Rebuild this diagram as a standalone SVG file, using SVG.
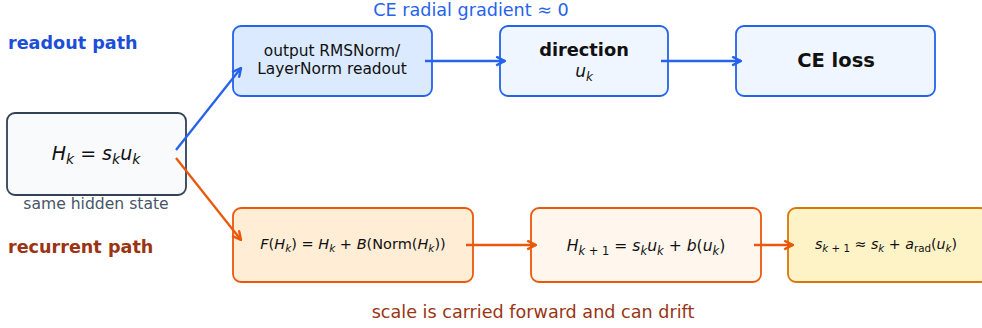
<svg xmlns="http://www.w3.org/2000/svg" width="982" height="328" viewBox="0 0 982 328">
<style>
text{font-family:"DejaVu Sans","Liberation Sans",sans-serif;}
.lbl{font-size:17.6px;font-weight:bold;}
.i{font-style:italic;}
.bl{stroke:#2563eb;stroke-width:2.3;fill:none;}
.or{stroke:#ea580c;stroke-width:2.3;fill:none;}
</style>
<defs>
<marker id="ab" viewBox="0 0 10 10" refX="9" refY="5" markerWidth="11" markerHeight="11" markerUnits="userSpaceOnUse" orient="auto">
<path d="M1,1 L9,5 L1,9" fill="none" stroke="#2563eb" stroke-width="2.2"/>
</marker>
<marker id="ao" viewBox="0 0 10 10" refX="9" refY="5" markerWidth="11" markerHeight="11" markerUnits="userSpaceOnUse" orient="auto">
<path d="M1,1 L9,5 L1,9" fill="none" stroke="#ea580c" stroke-width="2.2"/>
</marker>
</defs>
<rect width="982" height="328" fill="#ffffff"/>
<text x="8" y="49" class="lbl" fill="#1d4ed8">readout path</text>
<text x="8" y="253" class="lbl" fill="#9a3412">recurrent path</text>
<text x="471" y="16" font-size="17.6" fill="#2563eb" text-anchor="middle">CE radial gradient  ≈ 0</text>
<text x="533" y="318" font-size="17.6" fill="#9a3412" text-anchor="middle">scale is carried forward and can drift</text>

<g id="hidden">
<rect x="7" y="113" width="179" height="82" rx="8" fill="#f8fafc" stroke="#334155" stroke-width="1.8"/>
<text x="96" y="160" font-size="19" fill="#111" text-anchor="middle"><tspan class="i">H</tspan><tspan class="i" font-size="14" dy="4">k</tspan><tspan dy="-4"> = </tspan><tspan class="i">s</tspan><tspan class="i" font-size="14" dy="4">k</tspan><tspan class="i" dy="-4">u</tspan><tspan class="i" font-size="14" dy="4">k</tspan></text>
<text x="96" y="209" font-size="15.6" fill="#475569" text-anchor="middle">same hidden state</text>
</g>
<g id="readout">
<rect x="233" y="26" width="199" height="70" rx="8" fill="#dbeafe" stroke="#2563eb" stroke-width="1.8"/>
<text x="332" y="56" font-size="15.4" fill="#111" text-anchor="middle">output RMSNorm/</text>
<text x="332" y="74" font-size="15.4" fill="#111" text-anchor="middle">LayerNorm readout</text>
</g>
<g id="direction">
<rect x="500" y="26" width="168" height="70" rx="8" fill="#eff6ff" stroke="#2563eb" stroke-width="1.8"/>
<text x="584" y="56" font-size="17.8" font-weight="bold" fill="#111" text-anchor="middle">direction</text>
<text x="584" y="77" font-size="17" fill="#111" text-anchor="middle"><tspan class="i">u</tspan><tspan class="i" font-size="12" dy="4">k</tspan></text>
</g>
<g id="celoss">
<rect x="736" y="26" width="199" height="70" rx="8" fill="#eff6ff" stroke="#2563eb" stroke-width="1.8"/>
<text x="836" y="67" font-size="19.5" font-weight="bold" fill="#111" text-anchor="middle">CE loss</text>
</g>
<g id="fmap">
<rect x="233" y="208" width="240" height="74" rx="8" fill="#ffedd5" stroke="#ea580c" stroke-width="1.8"/>
<text x="353" y="249" font-size="14.5" fill="#111" text-anchor="middle"><tspan class="i">F</tspan>(<tspan class="i">H</tspan><tspan class="i" font-size="10.5" dy="3">k</tspan><tspan dy="-3">) = </tspan><tspan class="i">H</tspan><tspan class="i" font-size="10.5" dy="3">k</tspan><tspan dy="-3"> + </tspan><tspan class="i">B</tspan>(Norm(<tspan class="i">H</tspan><tspan class="i" font-size="10.5" dy="3">k</tspan><tspan dy="-3">))</tspan></text>
</g>
<g id="hnext">
<rect x="531" y="208" width="230" height="74" rx="8" fill="#fff7ed" stroke="#ea580c" stroke-width="1.8"/>
<text x="646" y="251" font-size="15.6" fill="#111" text-anchor="middle"><tspan class="i">H</tspan><tspan class="i" font-size="11.5" dy="4">k</tspan><tspan font-size="11.5"> + 1</tspan><tspan dy="-4"> = </tspan><tspan class="i">s</tspan><tspan class="i" font-size="11.5" dy="4">k</tspan><tspan class="i" dy="-4">u</tspan><tspan class="i" font-size="11.5" dy="4">k</tspan><tspan dy="-4"> + </tspan><tspan class="i">b</tspan>(<tspan class="i">u</tspan><tspan class="i" font-size="11.5" dy="4">k</tspan><tspan dy="-4">)</tspan></text>
</g>
<g id="snext">
<rect x="788" y="208" width="200" height="74" rx="8" fill="#fef3c7" stroke="#d97706" stroke-width="1.8"/>
<text x="886" y="249" font-size="14.2" fill="#111" text-anchor="middle"><tspan class="i">s</tspan><tspan class="i" font-size="10.3" dy="3">k</tspan><tspan font-size="10.3"> + 1</tspan><tspan dy="-3"> ≈ </tspan><tspan class="i">s</tspan><tspan class="i" font-size="10.3" dy="3">k</tspan><tspan dy="-3"> + </tspan><tspan class="i">a</tspan><tspan font-size="10.3" dy="3">rad</tspan><tspan dy="-3">(</tspan><tspan class="i">u</tspan><tspan class="i" font-size="10.3" dy="3">k</tspan><tspan dy="-3">)</tspan></text>
</g>
<g id="connectors">
<line x1="176" y1="150" x2="241" y2="68" class="bl" marker-end="url(#ab)"/>
<line x1="176" y1="158" x2="241" y2="240" class="or" marker-end="url(#ao)"/>
<line x1="425" y1="61" x2="505" y2="61" class="bl" marker-end="url(#ab)"/>
<line x1="661" y1="61" x2="741" y2="61" class="bl" marker-end="url(#ab)"/>
<line x1="466" y1="245" x2="536" y2="245" class="or" marker-end="url(#ao)"/>
<line x1="754" y1="245" x2="793" y2="245" class="or" marker-end="url(#ao)"/>
</g>
</svg>
